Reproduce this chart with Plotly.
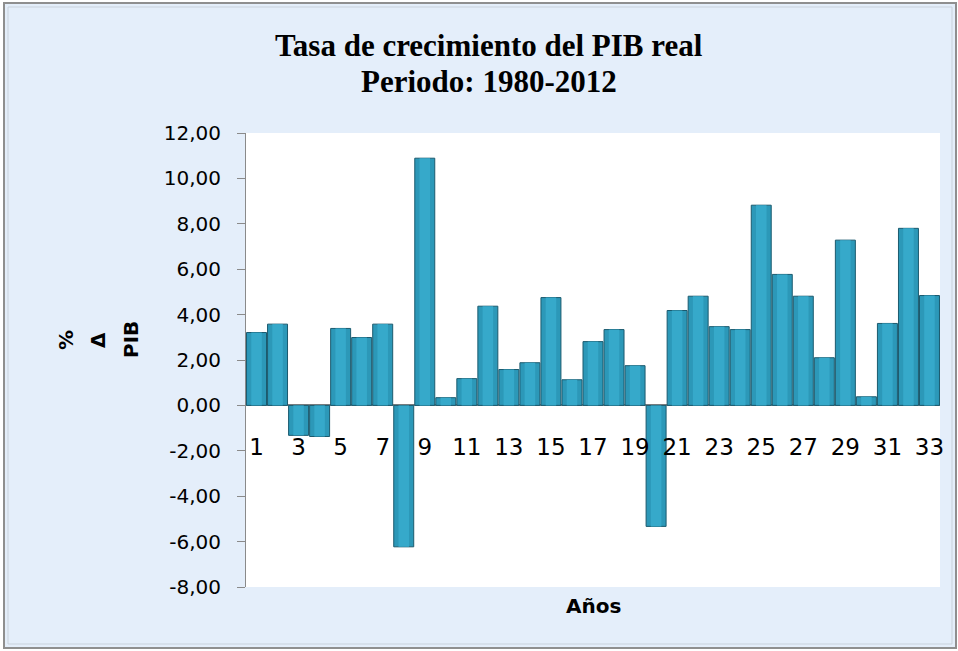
import plotly.graph_objects as go

years = list(range(1, 34))
growth = [3.21, 3.58, -1.32, -1.37, 3.39, 2.99, 3.58, -6.23, 10.89, 0.34,
          1.18, 4.37, 1.58, 1.88, 4.75, 1.13, 2.81, 3.34, 1.75, -5.33,
          4.18, 4.81, 3.47, 3.34, 8.82, 5.77, 4.81, 2.10, 7.28, 0.38,
          3.61, 7.80, 4.84]
x_tickvals = [1, 3, 5, 7, 9, 11, 13, 15, 17, 19, 21, 23, 25, 27, 29, 31, 33]
x_ticktext = ["1", "3", "5", "7", "9", "11", "13", "15", "17", "19", "21",
              "23", "25", "27", "29", "31", "33"]
y_tickvals = [-8, -6, -4, -2, 0, 2, 4, 6, 8, 10, 12]
y_ticktext = ["-8,00", "-6,00", "-4,00", "-2,00", "0,00", "2,00", "4,00",
              "6,00", "8,00", "10,00", "12,00"]

title_lines = ["Tasa de crecimiento del PIB real", "Periodo: 1980-2012"]
x_title = "Años"
y_title_lines = ["%", "Δ", "PIB"]

W, H = 958, 651
ML, MR, MT, MB = 246, 18, 133, 64
PW, PH = W - ML - MR, H - MT - MB


def px_x(p):
    return (p - ML) / PW


def px_y(p):
    return (H - MB - p) / PH


fig = go.Figure()
fig.add_trace(go.Bar(
    x=years, y=growth,
    marker=dict(color="#2C98B8", line=dict(color="#1B5A6E", width=1)),
    hoverinfo="x+y", showlegend=False,
))
fig.add_trace(go.Bar(
    x=years, y=growth, width=0.5,
    marker=dict(color="#36A9CA", line=dict(width=0)),
    hoverinfo="skip", showlegend=False,
))

annotations = []
for txt, yc in zip(title_lines, [46, 81]):
    annotations.append(dict(
        text=txt, xref="paper", yref="paper", x=px_x(489), y=px_y(yc),
        showarrow=False, xanchor="center", yanchor="middle",
        font=dict(family="Liberation Serif", size=31, color="black", weight="bold")))
for txt, xc in zip(y_title_lines, [66, 98, 131]):
    annotations.append(dict(
        text=txt, xref="paper", yref="paper", x=px_x(xc), y=px_y(340),
        showarrow=False, xanchor="center", yanchor="middle", textangle=-90,
        font=dict(family="DejaVu Sans", size=20, color="black", weight="bold")))
annotations.append(dict(
    text=x_title, xref="paper", yref="paper", x=px_x(593), y=px_y(606),
    showarrow=False, xanchor="center", yanchor="middle",
    font=dict(family="DejaVu Sans", size=20, color="black", weight="bold")))

fig.update_layout(
    width=W, height=H,
    margin=dict(l=ML, r=MR, t=MT, b=MB),
    paper_bgcolor="white",
    plot_bgcolor="rgba(0,0,0,0)",
    barmode="overlay",
    bargap=0.05,
    xaxis=dict(range=[0.5, 33.5], tickmode="array", tickvals=x_tickvals, ticktext=x_ticktext,
               showgrid=False, showline=False, zeroline=False, ticks="",
               anchor="free", position=px_y(431),
               tickfont=dict(family="DejaVu Sans", size=23, color="black")),
    yaxis=dict(range=[-8, 12], tickmode="array", tickvals=y_tickvals, ticktext=y_ticktext,
               showgrid=False, showline=True, linecolor="#8a8a8a", linewidth=1,
               ticks="outside", ticklen=8, tickcolor="#8a8a8a", ticklabelstandoff=12,
               zeroline=True, zerolinecolor="#808080", zerolinewidth=1.5,
               tickfont=dict(family="DejaVu Sans", size=20, color="black")),
    shapes=[
        dict(type="rect", xref="paper", yref="paper", layer="below",
             x0=px_x(4), x1=px_x(956), y0=px_y(648), y1=px_y(3),
             fillcolor="#E4EEFA", line=dict(color="#8f8f8f", width=2)),
        dict(type="rect", xref="paper", yref="paper", layer="below",
             x0=px_x(8), x1=px_x(952), y0=px_y(644), y1=px_y(7),
             fillcolor="rgba(0,0,0,0)", line=dict(color="#c9d2dc", width=1)),
        dict(type="rect", xref="paper", yref="paper", layer="below",
             x0=0, x1=1, y0=0, y1=1, fillcolor="white", line=dict(width=0)),
    ],
    annotations=annotations,
)

fig.write_html("out.html", config={"displayModeBar": False},
               post_script="document.body.style.margin='0px';")
